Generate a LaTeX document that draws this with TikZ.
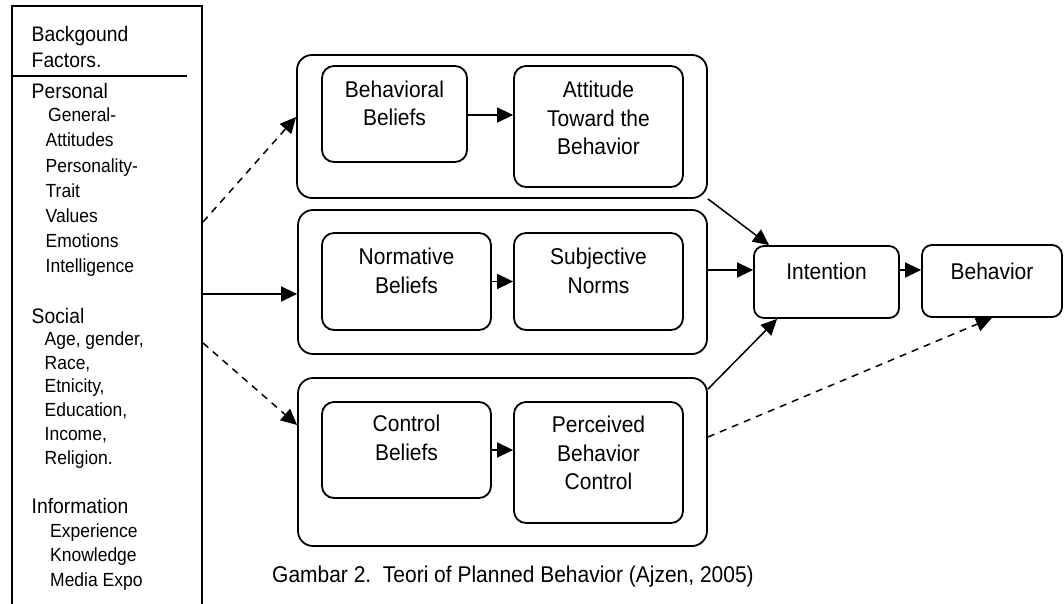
\documentclass[tikz,border=0pt]{standalone}
\usepackage{fontspec}
\setmainfont{Liberation Sans}[FakeStretch=0.92]
\usetikzlibrary{arrows.meta}
\begin{document}
\begin{tikzpicture}[x=1pt,y=-1pt,
  grp/.style={draw, line width=1.8pt, rounded corners=15pt, inner sep=0pt},
  inbox/.style={draw, line width=1.8pt, rounded corners=12pt, inner sep=0pt},
  btxt/.style={font=\fontsize{22.8}{28.5}\selectfont, align=center, inner sep=0pt},
  ttl/.style={font=\fontsize{21}{26}\selectfont, anchor=base west, inner sep=0pt},
  itm/.style={font=\fontsize{19}{24}\selectfont, anchor=base west, inner sep=0pt},
  arr/.style={line width=1.5pt, -{Triangle[length=16pt,width=15pt]}},
  darr/.style={arr, dash pattern=on 7pt off 6pt}]
\useasboundingbox (0,0) rectangle (1064,604);
\clip (0,0) rectangle (1064,604);
\fill[white] (0,0) rectangle (1064,604);

% background factors box
\node[draw, line width=2pt, minimum width=190pt, minimum height=640pt, inner sep=0pt] (bg) at (107,326) {};
\draw[line width=1.8pt] (bg.west |- 0,76) -- (187,76);
\node[ttl] (l1) at (31.5,41.5) {Backgound};
\node[ttl] (l2) at (31.5,68) {Factors.};
\node[ttl] (l3) at (31.5,99) {Personal};
\node[itm] (l4) at (48,122) {General-};
\node[itm] (l5) at (45.5,147) {Attitudes};
\node[itm] (l6) at (45.5,172) {Personality-};
\node[itm] (l7) at (45.5,197) {Trait};
\node[itm] (l8) at (45.5,222) {Values};
\node[itm] (l9) at (45.5,247) {Emotions};
\node[itm] (l10) at (45.5,272) {Intelligence};
\node[ttl] (l11) at (31.5,323) {Social};
\node[itm] (l12) at (44.5,345.5) {Age, gender,};
\node[itm] (l13) at (44.5,369) {Race,};
\node[itm] (l14) at (44.5,392.5) {Etnicity,};
\node[itm] (l15) at (44.5,416) {Education,};
\node[itm] (l16) at (44.5,440) {Income,};
\node[itm] (l17) at (44.5,464) {Religion.};
\node[ttl] (l18) at (31.5,513) {Information};
\node[itm] (l19) at (50,537) {Experience};
\node[itm] (l20) at (50,561) {Knowledge};
\node[itm] (l21) at (50,586) {Media Expo};

% group boxes
\node[grp, minimum width=410pt, minimum height=143pt] (o1) at (502,126.5) {};
\node[grp, minimum width=409pt, minimum height=144pt] (o2) at (502.5,282) {};
\node[grp, minimum width=409pt, minimum height=168pt] (o3) at (502.5,462) {};

% inner boxes
\node[inbox, minimum width=145pt, minimum height=96pt] (b1) at (394.5,114) {};
\node[inbox, minimum width=169pt, minimum height=121pt] (a1) at (598.5,126.5) {};
\node[inbox, minimum width=169pt, minimum height=97pt] (nb) at (406.5,281.5) {};
\node[inbox, minimum width=169pt, minimum height=97pt] (sn) at (598.5,281.5) {};
\node[inbox, minimum width=169pt, minimum height=96pt] (cb) at (406.5,450) {};
\node[inbox, minimum width=169pt, minimum height=121pt] (pb) at (598.5,462.5) {};
\node[inbox, rounded corners=10pt, minimum width=145pt, minimum height=72pt] (int) at (826.5,282) {};
\node[inbox, rounded corners=10pt, minimum width=140pt, minimum height=72pt] (beh) at (992,281) {};

% texts
\node[btxt] (t1) at (394.5,103.5) {Behavioral\\Beliefs};
\node[btxt] (t2) at (598.5,118) {Attitude\\Toward the\\Behavior};
\node[btxt] (t3) at (406.5,271) {Normative\\Beliefs};
\node[btxt] (t4) at (598.5,271) {Subjective\\Norms};
\node[btxt] (t5) at (406.5,438) {Control\\Beliefs};
\node[btxt] (t6) at (598.5,453) {Perceived\\Behavior\\Control};
\node[btxt] (t7) at (826.5,271) {Intention};
\node[btxt] (t8) at (992,271) {Behavior};
\node[font=\fontsize{22.8}{28}\selectfont, anchor=base west, inner sep=0pt] (cap) at (272,582) {Gambar 2.\ \ Teori of Planned Behavior (Ajzen, 2005)};

% inner arrows
\draw[arr] (b1.east |- 0,115) -- (a1.west |- 0,115);
\draw[arr] (nb.east) -- (sn.west);
\draw[arr] (cb.east) -- (pb.west |- cb.east);

% left arrows
\draw[darr] (bg.east |- 0,222) -- (o1.west |- 0,117);
\draw[arr] (bg.east |- 0,294) -- (o2.west |- 0,294);
\draw[darr] (bg.east |- 0,343) -- (o3.west |- 0,425);

% right arrows
\draw[arr] (o1.south east) -- ([xshift=16pt]int.north west);
\draw[arr] (o2.east |- 0,270) -- (int.west |- 0,270);
\draw[arr] ([yshift=-12pt]o3.north east) -- ([xshift=24pt]int.south west);
\draw[arr] (int.east |- 0,270) -- (beh.west |- 0,270);
\draw[darr] (o3.east |- 0,437) -- (beh.south);
\end{tikzpicture}
\end{document}
